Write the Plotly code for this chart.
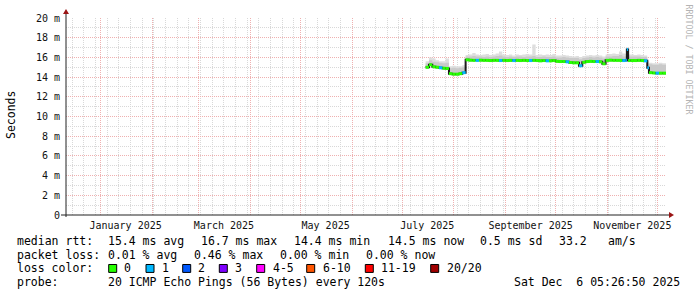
import plotly.graph_objects as go
import pandas as pd

# ---------------- data ----------------
START = "2024-12-11 05:26:50"
END = "2025-12-06 05:26:50"

dates = [
    "2025-07-15", "2025-07-17", "2025-07-19", "2025-07-21", "2025-07-23", "2025-07-25",
    "2025-07-27", "2025-07-29", "2025-07-31", "2025-08-02", "2025-08-04", "2025-08-06",
    "2025-08-08", "2025-08-10", "2025-08-12", "2025-08-14", "2025-08-16", "2025-08-18",
    "2025-08-20", "2025-08-22", "2025-08-24", "2025-08-26", "2025-08-28", "2025-08-30",
    "2025-09-01", "2025-09-03", "2025-09-05", "2025-09-07", "2025-09-09", "2025-09-11",
    "2025-09-13", "2025-09-15", "2025-09-17", "2025-09-19", "2025-09-21", "2025-09-23",
    "2025-09-25", "2025-09-27", "2025-09-29", "2025-10-01", "2025-10-03", "2025-10-05",
    "2025-10-07", "2025-10-09", "2025-10-11", "2025-10-13", "2025-10-15", "2025-10-17",
    "2025-10-19", "2025-10-21", "2025-10-23", "2025-10-25", "2025-10-27", "2025-10-29",
    "2025-10-31", "2025-11-02", "2025-11-04", "2025-11-06", "2025-11-08", "2025-11-10",
    "2025-11-12", "2025-11-12 18:00", "2025-11-13 12:00", "2025-11-15", "2025-11-17",
    "2025-11-19", "2025-11-21", "2025-11-23", "2025-11-25", "2025-11-26", "2025-11-28",
    "2025-11-30", "2025-12-02", "2025-12-04",
]
median_ms = [
    15.00, 15.25, 15.05, 15.00, 14.95, 14.90,
    14.88, 14.35, 14.30, 14.30, 14.35, 14.45,
    15.75, 15.72, 15.70, 15.70, 15.72, 15.70,
    15.70, 15.68, 15.70, 15.70, 15.68, 15.70,
    15.68, 15.70, 15.68, 15.70, 15.68, 15.70,
    15.68, 15.68, 15.70, 15.68, 15.65, 15.68,
    15.65, 15.65, 15.68, 15.60, 15.58, 15.58,
    15.55, 15.48, 15.45, 15.45, 15.15, 15.50,
    15.58, 15.60, 15.58, 15.58, 15.55, 15.35,
    15.70, 15.72, 15.70, 15.70, 15.70, 15.68,
    15.70, 16.80, 15.68, 15.68, 15.68,
    15.70, 15.68, 15.65, 14.95, 14.45, 14.42,
    14.40, 14.40, 14.40,
]
smoke_top_ms = [
    15.40, 15.70, 15.55, 15.50, 15.45, 15.40,
    15.45, 14.90, 14.95, 14.90, 14.95, 15.00,
    16.10, 16.10, 16.15, 16.10, 16.10, 16.05,
    16.10, 16.05, 16.10, 16.15, 16.20, 16.10,
    16.05, 16.10, 16.05, 16.10, 16.10, 16.05,
    16.10, 16.10, 16.15, 16.05, 16.05, 16.10,
    16.05, 16.05, 16.10, 16.00, 16.00, 16.05,
    16.00, 15.95, 15.95, 15.95, 15.80, 15.95,
    16.00, 16.05, 16.00, 16.05, 16.00, 15.90,
    16.10, 16.10, 16.15, 16.15, 16.25, 16.10,
    16.15, 16.90, 16.10, 16.10, 16.10,
    16.10, 16.05, 16.05, 15.40, 15.30, 15.25,
    15.25, 15.30, 15.25,
]
smoke_max_ms = [
    15.60, 16.00, 15.90, 15.70, 15.60, 15.60,
    15.90, 15.10, 15.15, 15.10, 15.10, 15.20,
    16.25, 16.30, 16.45, 16.30, 16.25, 16.30,
    16.35, 16.25, 16.30, 16.40, 16.60, 16.30,
    16.25, 16.30, 16.20, 16.30, 16.25, 16.30,
    16.35, 16.30, 17.30, 16.25, 16.30, 16.25,
    16.30, 16.25, 16.35, 16.20, 16.20, 16.25,
    16.20, 16.15, 16.10, 16.15, 16.05, 16.15,
    16.20, 16.25, 16.20, 16.25, 16.20, 16.10,
    16.30, 16.35, 16.40, 16.35, 16.60, 16.40,
    16.35, 17.00, 16.30, 16.30, 16.25,
    16.30, 16.25, 16.20, 15.60, 15.45, 15.40,
    15.40, 15.45, 15.40,
]
loss_level = [
    0, 0, 0, 0, 1, 0,
    0, 0, 0, 0, 0, 1,
    0, 0, 0, 1, 0, 0,
    0, 0, 0, 0, 1, 0,
    0, 0, 1, 0, 0, 0,
    0, 1, 0, 0, 0, 0,
    1, 0, 0, 0, 0, 0,
    1, 0, 0, 0, 1, 0,
    0, 0, 0, 1, 0, 0,
    0, 0, 0, 0, 0, 1,
    1, 1, 0, 0, 0,
    0, 0, 1, 1, 0, 0,
    1, 0, 0,
]

loss_labels = ["0", "1", "2", "3", "4-5", "6-10", "11-19", "20/20"]
loss_colors = ["#26ff00", "#00b8ff", "#0059ff", "#7e00ff", "#ff00ff", "#ff5500", "#ff0000", "#a00000"]

month_label_dates = ["2025-01-16", "2025-03-16", "2025-05-16", "2025-07-16", "2025-09-16", "2025-11-16"]
month_labels = ["January 2025", "March 2025", "May 2025", "July 2025", "September 2025", "November 2025"]

y_tickvals = list(range(0, 21, 2))
y_ticktext = ["0"] + [f"{v} m" for v in range(2, 21, 2)]

# ---------------- geometry ----------------
W, H = 697, 297
L, R, T, B = 66, 31, 16, 82
PW = W - L - R
PH = H - T - B
PBOT = T + PH


def px(xp):
    return (xp - L) / PW


def py(yp):
    return (PBOT - yp) / PH


MONO = "DejaVu Sans Mono"

# ---------------- traces ----------------
xs_step = dates + [END]
med_step = median_ms + [median_ms[-1]]
top_step = smoke_top_ms + [smoke_top_ms[-1]]
max_step = smoke_max_ms + [smoke_max_ms[-1]]

fig = go.Figure()

# light smoke (to max)
fig.add_trace(go.Scatter(x=xs_step, y=med_step, mode="lines", line=dict(width=0, shape="hv"),
                         hoverinfo="skip", showlegend=False))
fig.add_trace(go.Scatter(x=xs_step, y=max_step, mode="lines", line=dict(width=0, shape="hv"),
                         fill="tonexty", fillcolor="#dedede", hoverinfo="skip", showlegend=False))
# darker smoke
fig.add_trace(go.Scatter(x=xs_step, y=med_step, mode="lines", line=dict(width=0, shape="hv"),
                         hoverinfo="skip", showlegend=False))
fig.add_trace(go.Scatter(x=xs_step, y=top_step, mode="lines", line=dict(width=0, shape="hv"),
                         fill="tonexty", fillcolor="#c9c9c9", hoverinfo="skip", showlegend=False))
# dark median line (visible at the level changes)
fig.add_trace(go.Scatter(x=xs_step, y=med_step, mode="lines",
                         line=dict(width=2, shape="hv", color="#1a1a1a"),
                         hoverinfo="skip", showlegend=False))

# coloured median segments, one trace per loss colour
for lvl, col in enumerate(loss_colors):
    sx, sy = [], []
    for i, l in enumerate(loss_level):
        if l == lvl:
            sx += [xs_step[i], xs_step[i + 1], None]
            sy += [median_ms[i], median_ms[i], None]
    if sx:
        fig.add_trace(go.Scatter(x=sx, y=sy, mode="lines",
                                 line=dict(width=3, color=col),
                                 hoverinfo="skip", showlegend=False))

# dummy for label axis
fig.add_trace(go.Scatter(x=[START], y=[0], xaxis="x2", mode="markers", opacity=0,
                         hoverinfo="skip", showlegend=False))

GRID_MAJOR = "#efb0b0"
GRID_MINOR = "#d8d8d8"

fig.update_layout(
    width=W, height=H,
    margin=dict(l=L, r=R, t=T, b=B, pad=0),
    paper_bgcolor="white", plot_bgcolor="white",
    showlegend=False,
    xaxis=dict(
        type="date", range=[START, END],
        tickmode="linear", tick0="2025-01-01", dtick="M1",
        showticklabels=False, ticks="",
        showgrid=True, gridcolor=GRID_MAJOR, griddash="1px,1px", gridwidth=1,
        minor=dict(tick0="2024-12-15", dtick=7 * 86400000, showgrid=True,
                   gridcolor=GRID_MINOR, griddash="1px,1px", gridwidth=1, ticks=""),
        zeroline=False, showline=False, fixedrange=True,
    ),
    xaxis2=dict(
        type="date", range=[START, END], overlaying="x", side="bottom", anchor="y",
        tickmode="array", tickvals=month_label_dates, ticktext=month_labels,
        showgrid=False, ticks="", showline=False, zeroline=False,
        tickfont=dict(family=MONO, size=10, color="#111"),
        ticklabelstandoff=3,
    ),
    yaxis=dict(
        range=[0, 20], tickmode="array", tickvals=y_tickvals, ticktext=y_ticktext,
        showgrid=True, gridcolor=GRID_MAJOR, griddash="1px,1px", gridwidth=1,
        minor=dict(dtick=1, tick0=0, showgrid=True, gridcolor=GRID_MINOR,
                   griddash="1px,1px", gridwidth=1, ticks=""),
        ticks="", zeroline=False, showline=False,
        tickfont=dict(family=MONO, size=10, color="#111"),
        ticklabelstandoff=5,
    ),
)

shapes = []
AX = "#222222"
ARROW = "#9a1515"
# x axis line + arrow
shapes.append(dict(type="line", xref="paper", yref="paper", x0=px(61), x1=px(670),
                   y0=0, y1=0, line=dict(color=AX, width=1)))
shapes.append(dict(type="path", xref="paper", yref="paper",
                   path=f"M {px(669)} {py(PBOT-3)} L {px(674)} {py(PBOT)} L {px(669)} {py(PBOT+3)} Z",
                   fillcolor=ARROW, line=dict(color=ARROW, width=0)))
# y axis line + arrow
shapes.append(dict(type="line", xref="paper", yref="paper", x0=0, x1=0,
                   y0=py(PBOT + 2), y1=py(11), line=dict(color=AX, width=1)))
shapes.append(dict(type="path", xref="paper", yref="paper",
                   path=f"M {px(L-3)} {py(12)} L {px(L)} {py(7)} L {px(L+3)} {py(12)} Z",
                   fillcolor=ARROW, line=dict(color=ARROW, width=0)))

annotations = []


def text(x, y, s, size=11.5, color="#000", anchor="left", angle=0):
    annotations.append(dict(xref="paper", yref="paper", x=px(x), y=py(y), text=s,
                            showarrow=False, xanchor=anchor, yanchor="middle",
                            textangle=angle, borderpad=0,
                            font=dict(family=MONO, size=size, color=color)))


# axis title
annotations.append(dict(xref="paper", yref="paper", x=px(11), y=py(114), text="Seconds",
                        showarrow=False, xanchor="center", yanchor="middle", textangle=-90,
                        font=dict(family=MONO, size=11.5, color="#000")))
# watermark
annotations.append(dict(xref="paper", yref="paper", x=px(689), y=py(58),
                        text="RRDTOOL / TOBI OETIKER", showarrow=False,
                        xanchor="center", yanchor="middle", textangle=90,
                        font=dict(family=MONO, size=8.3, color="#b4b4b4")))

# legend line 1
y1 = 241
for xx, s in [(16, "median rtt:"), (107, "15.4 ms avg"), (200, "16.7 ms max"),
              (293, "14.4 ms min"), (386.7, "14.5 ms now"), (479, "0.5 ms sd"),
              (558, "33.2"), (606.7, "am/s")]:
    text(xx, y1, s)
# line 2
y2 = 255
for xx, s in [(16, "packet loss:"), (107, "0.01 % avg"), (193.3, "0.46 % max"),
              (279.3, "0.00 % min"), (365, "0.00 % now")]:
    text(xx, y2, s)
# line 3
y3 = 269
text(16, y3, "loss color:")
box_x = [108.7, 146, 182.7, 219.3, 256.7, 306.7, 365.3, 430.7]
lab_x = [123.3, 161, 197, 234, 271.7, 321.7, 380, 446]
for bx, lx, lab, col in zip(box_x, lab_x, loss_labels, loss_colors):
    shapes.append(dict(type="rect", xref="paper", yref="paper",
                       x0=px(bx), x1=px(bx + 8), y0=py(y3 + 4), y1=py(y3 - 4),
                       fillcolor=col, line=dict(color="#000", width=1)))
    text(lx, y3, lab)
# line 4
y4 = 283
text(16, y4, "probe:")
text(107, y4, "20 ICMP Echo Pings (56 Bytes) every 120s")
text(513.3, y4, "Sat Dec \u00a06 05:26:50 2025")

fig.update_layout(shapes=shapes, annotations=annotations)

fig.write_html("out.html")
